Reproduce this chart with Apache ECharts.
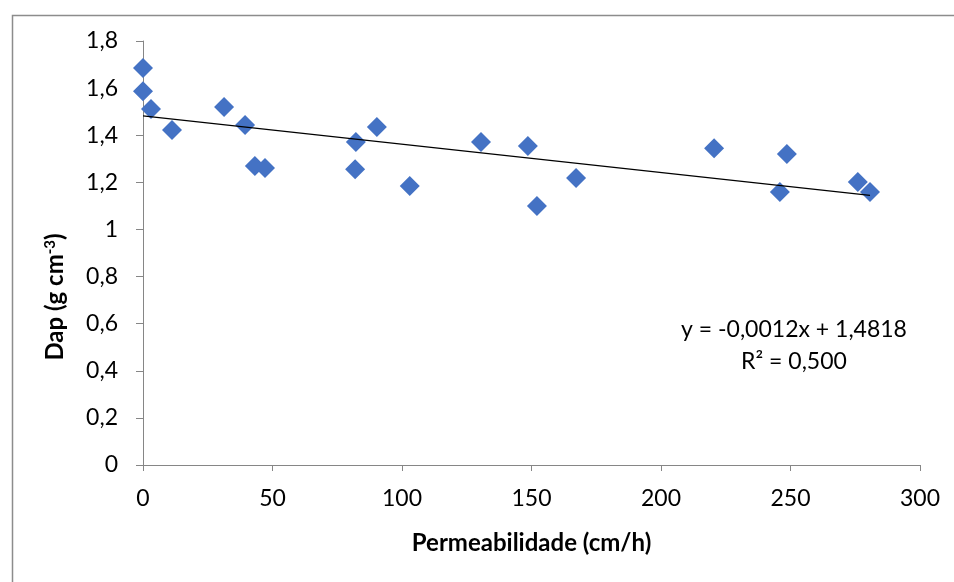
<!DOCTYPE html>
<html>
<head>
<meta charset="utf-8">
<script src="https://cdn.jsdelivr.net/npm/echarts@6/dist/echarts.min.js"></script>
<style>
  html, body { margin: 0; padding: 0; background: #fff; }
  #chart { width: 954px; height: 582px; }
</style>
</head>
<body>
<div id="chart"></div>
<script>
// permeabilidade (cm/h) e densidade aparente (g cm-3)
var permeabilidade = [0, 0, -0.5, 3.1, 11.2, 31.3, 39.4, 43.2, 47.1, 82.2, 81.9, 90.3, 103, 130.5, 148.6, 152.1, 167.2, 220.5, 245.9, 248.6, 276, 280.7];
var dap = [1.685, 1.587, 1.572, 1.511, 1.422, 1.52, 1.443, 1.269, 1.261, 1.371, 1.256, 1.435, 1.184, 1.371, 1.354, 1.099, 1.218, 1.345, 1.159, 1.320, 1.201, 1.159];

// linha de tendência
var slope = -0.0012;
var intercept = 1.4818;
var trendX = [0, 280.7];
var eqLines = ['y = -0,0012x + 1,4818', 'R² = 0,500'];

var fontFam = 'Lato, "Open Sans", sans-serif';

var points = [];
for (var i = 0; i < permeabilidade.length; i++) {
    points.push([permeabilidade[i], dap[i]]);
}
var trend = trendX.map(function(x) { return [x, intercept + slope * x]; });

var chart = echarts.init(document.getElementById('chart'));
var option = {
    animation: false,
    backgroundColor: '#fff',
    textStyle: { fontFamily: fontFam },
    grid: { left: 143, right: 34, top: 41, bottom: 117 },
    xAxis: {
        type: 'value',
        min: 0,
        max: 300,
        interval: 50,
        name: 'Permeabilidade (cm/h)',
        nameLocation: 'middle',
        nameGap: 66,
        nameTextStyle: { fontSize: 24, fontWeight: 'bold', color: '#000', fontFamily: fontFam },
        axisLine: { lineStyle: { color: '#868686', width: 1 } },
        axisTick: { show: true, length: 6, lineStyle: { color: '#868686' } },
        axisLabel: { fontSize: 23, color: '#000', margin: 22 },
        splitLine: { show: false }
    },
    yAxis: {
        type: 'value',
        min: 0,
        max: 1.8,
        interval: 0.2,
        axisLine: { show: true, lineStyle: { color: '#868686', width: 1 } },
        axisTick: { show: true, length: 7, lineStyle: { color: '#868686' } },
        axisLabel: {
            fontSize: 23,
            color: '#000',
            margin: 25,
            formatter: function(v) {
                return String(Math.round(v * 10) / 10).replace('.', ',');
            }
        },
        splitLine: { show: false }
    },
    graphic: [
        {
            type: 'rect',
            left: 10,
            top: 13,
            shape: { width: 960, height: 600 },
            style: { fill: 'none', stroke: '#8c8c8c', lineWidth: 1.5 },
            silent: true
        },
        {
            type: 'text',
            x: 55,
            y: 297,
            rotation: Math.PI / 2,
            style: {
                text: '{a|Dap (g cm}{s|-3}{a|)}',
                textAlign: 'center',
                textVerticalAlign: 'middle',
                rich: {
                    a: { fontSize: 24, fontWeight: 'bold', fill: '#000', fontFamily: fontFam },
                    s: { fontSize: 15, fontWeight: 'bold', fill: '#000', fontFamily: fontFam, verticalAlign: 'top', padding: [0, 0, 10, 0] }
                }
            }
        },
        {
            type: 'text',
            x: 794,
            y: 330,
            style: {
                text: eqLines[0],
                textAlign: 'center',
                textVerticalAlign: 'middle',
                fontSize: 23,
                fill: '#000',
                fontFamily: fontFam
            }
        },
        {
            type: 'text',
            x: 794,
            y: 362,
            style: {
                text: eqLines[1],
                textAlign: 'center',
                textVerticalAlign: 'middle',
                fontSize: 23,
                fill: '#000',
                fontFamily: fontFam
            }
        }
    ],
    series: [
        {
            type: 'line',
            data: trend,
            symbol: 'none',
            lineStyle: { color: '#000', width: 1.3 },
            z: 3
        },
        {
            type: 'scatter',
            data: points,
            symbol: 'diamond',
            symbolSize: 20,
            itemStyle: { color: '#4472C4', opacity: 1 },
            z: 2
        }
    ]
};
chart.setOption(option);
</script>
</body>
</html>
